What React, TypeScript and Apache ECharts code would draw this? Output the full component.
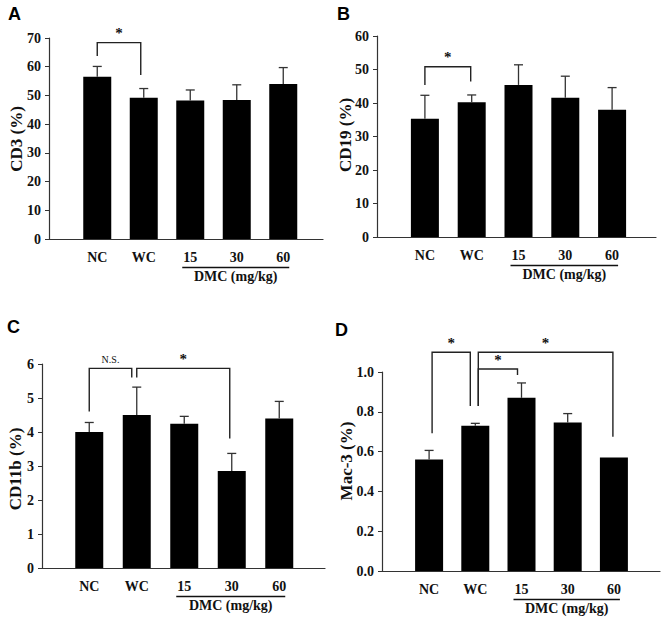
import React, { useEffect, useRef } from "react";
import * as echarts from "echarts";

// ---------- data ----------
const categories = ["NC", "WC", "15", "30", "60"];

const cd3Mean = [56.5, 49.2, 48.2, 48.4, 54.0];
const cd3Err = [3.6, 3.2, 3.7, 5.3, 5.7];
const cd19Mean = [35.3, 40.2, 45.4, 41.6, 38.0];
const cd19Err = [7.0, 2.2, 6.0, 6.4, 6.6];
const cd11bMean = [4.0, 4.5, 4.24, 2.85, 4.4];
const cd11bErr = [0.28, 0.82, 0.22, 0.52, 0.5];
const mac3Mean = [0.56, 0.73, 0.87, 0.746, 0.57];
const mac3Err = [0.046, 0.012, 0.075, 0.045, 0];

// significance brackets: [fromIndex, toIndex, top, leftLegBottom, rightLegBottom, label]
const cd3Brackets: [number, number, number, number, number, string][] = [[0, 1, 68.4, 63.7, 57.1, "*"]];
const cd19Brackets: [number, number, number, number, number, string][] = [[0, 1, 50.8, 45.4, 46.4, "*"]];
const cd11bBrackets: [number, number, number, number, number, string][] = [
  [0, 1, 5.87, 4.6, 5.6, "N.S."],
  [1, 3, 5.87, 5.6, 3.81, "*"],
];
const mac3Brackets: [number, number, number, number, number, string][] = [
  [0, 1, 1.099, 0.692, 0.829, "*"],
  [1, 2, 1.015, 0.829, 0.985, "*"],
  [1, 4, 1.099, 0.829, 0.675, "*"],
];

const yNames = ["CD3 (%)", "CD19 (%)", "CD11b (%)", "Mac-3 (%)"];
const yMax = [70, 60, 6, 1.0];
const yInterval = [10, 10, 1, 0.2];
const yDecimals = [0, 0, 0, 1];
const panelLetters = ["A", "B", "C", "D"];
const groupLabel = "DMC (mg/kg)";

// ---------- layout (pixels) ----------
const outerGrids = [
  { left: 49, top: 38, width: 274, height: 201 },
  { left: 377, top: 36, width: 279, height: 201 },
  { left: 42, top: 364, width: 283, height: 204 },
  { left: 382, top: 372, width: 278, height: 199 },
];
const innerGrids = [
  { left: 74, width: 232.5 },
  { left: 401.5, width: 234 },
  { left: 65.5, width: 237.5 },
  { left: 406, width: 231 },
];
const letterPos = [
  [8, 5],
  [337, 5],
  [7, 318],
  [335, 321],
];
const yNamePos = [
  [16, 139],
  [345, 135],
  [15, 469],
  [346, 461],
];
// small horizontal nudges of bracket legs [left, right] in px
const bracketNudges = [
  [[0, -3]],
  [[0, -1]],
  [[0, -5], [0, -2]],
  [[3, -5], [3, -4], [3, -1]],
];

const serif = '"Liberation Serif", "Times New Roman", serif';
const sans = '"Liberation Sans", Arial, sans-serif';
const ink = "#111";

const means = [cd3Mean, cd19Mean, cd11bMean, mac3Mean];
const errs = [cd3Err, cd19Err, cd11bErr, mac3Err];
const brackets = [cd3Brackets, cd19Brackets, cd11bBrackets, mac3Brackets];

function buildOption() {
  const grid: any[] = [];
  const xAxis: any[] = [];
  const yAxis: any[] = [];
  const series: any[] = [];

  for (let p = 0; p < 4; p++) {
    const og = outerGrids[p];
    const ig = innerGrids[p];
    const oi = 2 * p;
    const ii = 2 * p + 1;
    grid.push({ left: og.left, top: og.top, width: og.width, height: og.height, containLabel: false });
    grid.push({ left: ig.left, top: og.top, width: ig.width, height: og.height, containLabel: false });

    xAxis.push({
      type: "value",
      gridIndex: oi,
      min: 0,
      max: 1,
      axisLine: { show: true, lineStyle: { color: "#333", width: 1.2 } },
      axisTick: { show: false },
      axisLabel: { show: false },
      splitLine: { show: false },
    });
    xAxis.push({
      type: "category",
      gridIndex: ii,
      data: categories,
      axisLine: { show: false },
      axisTick: { show: false },
      axisLabel: {
        color: ink,
        fontFamily: serif,
        fontWeight: "bold",
        fontSize: 14,
        margin: 11,
      },
      splitLine: { show: false },
    });

    const dec = yDecimals[p];
    yAxis.push({
      type: "value",
      gridIndex: oi,
      min: 0,
      max: yMax[p],
      interval: yInterval[p],
      axisLine: { show: true, lineStyle: { color: "#333", width: 1.2 } },
      axisTick: { show: true, length: 4, lineStyle: { color: "#333" } },
      axisLabel: {
        color: ink,
        fontFamily: serif,
        fontWeight: "bold",
        fontSize: 14,
        margin: 8,
        formatter: (v: number) => v.toFixed(dec),
      },
      splitLine: { show: false },
    });
    yAxis.push({
      type: "value",
      gridIndex: ii,
      min: 0,
      max: yMax[p],
      interval: yInterval[p],
      show: false,
    });

    // bars
    series.push({
      type: "bar",
      xAxisIndex: ii,
      yAxisIndex: ii,
      data: means[p],
      barWidth: 28,
      itemStyle: { color: "#000" },
      silent: true,
    });

    // error bars
    const e = errs[p];
    const m = means[p];
    series.push({
      type: "custom",
      xAxisIndex: ii,
      yAxisIndex: ii,
      clip: false,
      z: 3,
      data: m.map((v, i) => [i, v, v + e[i]]),
      renderItem: (params: any, api: any) => {
        const i = params.dataIndex;
        if (!e[i]) return null;
        const lo = api.coord([i, m[i]]);
        const hi = api.coord([i, m[i] + e[i]]);
        const st = { stroke: "#333", lineWidth: 1.3 };
        return {
          type: "group",
          children: [
            { type: "line", shape: { x1: lo[0], y1: lo[1], x2: hi[0], y2: hi[1] }, style: st },
            { type: "line", shape: { x1: hi[0] - 4.5, y1: hi[1], x2: hi[0] + 4.5, y2: hi[1] }, style: st },
          ],
        };
      },
    });

    // significance brackets
    const br = brackets[p];
    const nudges = bracketNudges[p];
    series.push({
      type: "custom",
      xAxisIndex: ii,
      yAxisIndex: ii,
      clip: false,
      z: 4,
      data: br.map((b) => [b[0], b[2]]),
      renderItem: (params: any, api: any) => {
        const b = br[params.dataIndex];
        const nd = nudges[params.dataIndex];
        const tl = api.coord([b[0], b[2]]);
        const tr = api.coord([b[1], b[2]]);
        const bl = api.coord([b[0], b[3]]);
        const brr = api.coord([b[1], b[4]]);
        const xl = tl[0] + nd[0];
        const xr = tr[0] + nd[1];
        const st = { stroke: "#222", lineWidth: 1.4, fill: "none" };
        const isStar = b[5] === "*";
        return {
          type: "group",
          children: [
            {
              type: "polyline",
              shape: { points: [[xl, bl[1]], [xl, tl[1]], [xr, tr[1]], [xr, brr[1]]] },
              style: st,
            },
            {
              type: "text",
              style: {
                text: b[5],
                x: (xl + xr) / 2,
                y: tl[1] - (isStar ? 2 : 4),
                align: "center",
                verticalAlign: "bottom",
                font: isStar ? `bold 15px ${serif}` : `10px ${serif}`,
                fill: ink,
              },
            },
          ],
        };
      },
    });

    // DMC group underline and label
    series.push({
      type: "custom",
      xAxisIndex: ii,
      yAxisIndex: ii,
      clip: false,
      z: 4,
      data: [[2, 0]],
      renderItem: (params: any, api: any) => {
        const a = api.coord([2, 0]);
        const c = api.coord([4, 0]);
        const y = a[1] + 28.5;
        const x1 = a[0] - 8;
        const x2 = c[0] + 6;
        return {
          type: "group",
          children: [
            { type: "line", shape: { x1, y1: y, x2, y2: y }, style: { stroke: ink, lineWidth: 1.6 } },
            {
              type: "text",
              style: {
                text: groupLabel,
                x: (x1 + x2) / 2,
                y: y + 2,
                align: "center",
                verticalAlign: "top",
                font: `bold 14px ${serif}`,
                fill: ink,
              },
            },
          ],
        };
      },
    });
  }

  const graphic: any[] = panelLetters.map((t, i) => ({
    type: "text",
    left: letterPos[i][0],
    top: letterPos[i][1],
    style: { text: t, font: `bold 18px ${sans}`, fill: "#000" },
  }));
  yNames.forEach((t, i) => {
    graphic.push({
      type: "text",
      x: yNamePos[i][0],
      y: yNamePos[i][1],
      rotation: Math.PI / 2,
      style: {
        text: t,
        align: "center",
        verticalAlign: "middle",
        font: `bold 17px ${serif}`,
        fill: ink,
      },
    });
  });

  return {
    animation: false,
    backgroundColor: "#fff",
    grid,
    xAxis,
    yAxis,
    series,
    graphic,
  };
}

export default function App() {
  const ref = useRef<HTMLDivElement>(null);
  useEffect(() => {
    if (!ref.current) return;
    const chart = echarts.init(ref.current, undefined, { renderer: "svg" });
    chart.setOption(buildOption() as any);
    return () => chart.dispose();
  }, []);
  return (
    <div
      ref={ref}
      style={{ position: "absolute", left: 0, top: 0, width: 671, height: 623, background: "#fff" }}
    />
  );
}
